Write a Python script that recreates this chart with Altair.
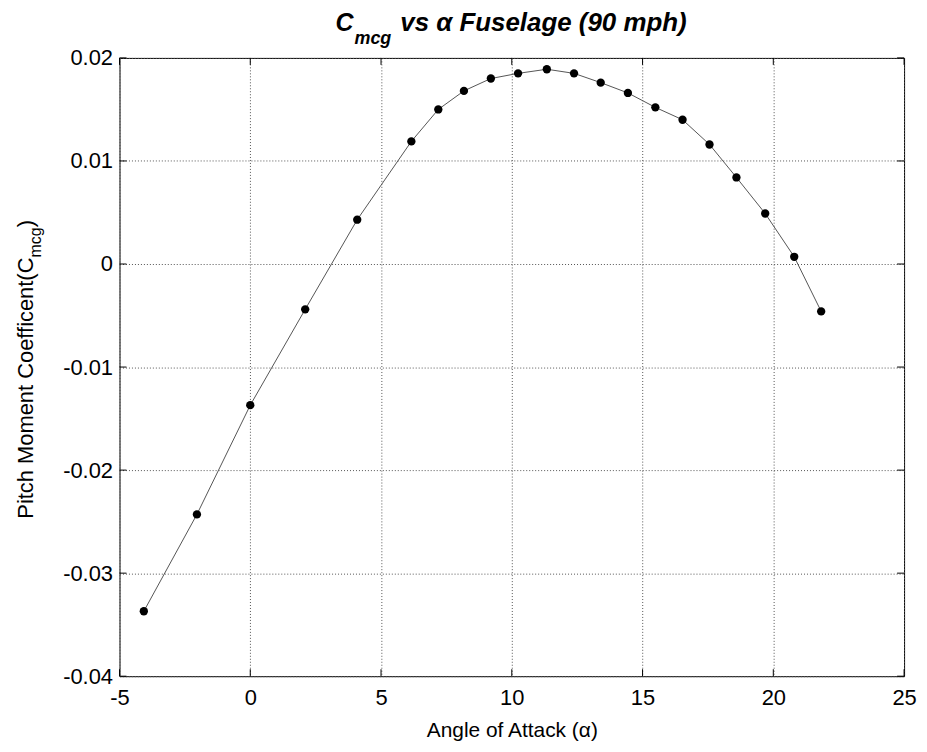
import altair as alt
import pandas as pd

# ---- data ----
alpha = [-4.07, -2.04, 0.0, 2.10, 4.09, 6.16, 7.19, 8.17, 9.20, 10.24, 11.34,
         12.38, 13.40, 14.44, 15.49, 16.53, 17.56, 18.59, 19.69, 20.80, 21.83]
cmcg = [-0.0337, -0.0243, -0.0137, -0.0044, 0.0043, 0.0119, 0.0150, 0.0168,
        0.0180, 0.0185, 0.0189, 0.0185, 0.0176, 0.0166, 0.0152, 0.0140,
        0.0116, 0.0084, 0.0049, 0.0007, -0.0046]
x_ticks = [-5, 0, 5, 10, 15, 20, 25]
y_ticks = [-0.04, -0.03, -0.02, -0.01, 0.0, 0.01, 0.02]

title_main = ["C"]
title_sub = ["mcg"]
title_rest = ["vs \u03b1 Fuselage (90 mph)"]
ytitle_main = ["Pitch Moment Coefficent(C"]
ytitle_sub = ["mcg"]
ytitle_end = [")"]
xtitle = "Angle of Attack (\u03b1)"

W, H = 788, 621
FONT = "Liberation Sans"
TICK = 7

df = pd.DataFrame({"alpha": alpha, "cmcg": cmcg})
xt = pd.DataFrame({"t": x_ticks})
yt = pd.DataFrame({"t": y_ticks})

xs = alt.Scale(domain=[-5, 25], nice=False, zero=False)
ys = alt.Scale(domain=[-0.04, 0.02], nice=False, zero=False)

xaxis = alt.Axis(values=x_ticks, title=xtitle, grid=True, ticks=False, domain=False,
                 labelExpr="datum.value < 0 ? '-' + format(-datum.value, 'd') : format(datum.value, 'd')",
                 labelPadding=11, titlePadding=12, labelFlush=False)
yaxis = alt.Axis(values=y_ticks, title="", grid=True, ticks=False, domain=False,
                 labelExpr="datum.value < 0 ? '-' + format(-datum.value, '.2~f') : format(datum.value, '.2~f')",
                 labelPadding=7, labelFlush=False)

X = alt.X("alpha:Q", scale=xs, axis=xaxis)
Y = alt.Y("cmcg:Q", scale=ys, axis=yaxis)

line = alt.Chart(df).mark_line(color="#555555", strokeWidth=1).encode(x=X, y=Y)
pts = alt.Chart(df).mark_circle(size=70, color="black", opacity=1).encode(x=X, y=Y)

XT = alt.X("t:Q", scale=xs, axis=xaxis)
YT = alt.Y("t:Q", scale=ys, axis=yaxis)
tick_bottom = alt.Chart(xt).mark_rule(color="black", strokeWidth=1).encode(
    x=XT, y=alt.value(H), y2=alt.value(H - TICK))
tick_top = alt.Chart(xt).mark_rule(color="black", strokeWidth=1).encode(
    x=XT, y=alt.value(0), y2=alt.value(TICK))
tick_left = alt.Chart(yt).mark_rule(color="black", strokeWidth=1).encode(
    y=YT, x=alt.value(0), x2=alt.value(TICK))
tick_right = alt.Chart(yt).mark_rule(color="black", strokeWidth=1).encode(
    y=YT, x=alt.value(W), x2=alt.value(W - TICK))


def txt(strings, x, y, size, align="left", angle=0, bold=False, italic=False):
    d = pd.DataFrame({"s": strings})
    kw = dict(align=align, baseline="alphabetic", font=FONT, fontSize=size, color="black")
    if angle:
        kw["angle"] = angle
    if bold:
        kw["fontWeight"] = "bold"
    if italic:
        kw["fontStyle"] = "italic"
    return alt.Chart(d).mark_text(**kw).encode(
        x=alt.value(x), y=alt.value(y), text="s:N")


t1 = txt(title_main, 217, -27, 25, bold=True, italic=True)
t2 = txt(title_sub, 236, -13.5, 18, bold=True, italic=True)
t3 = txt(title_rest, 282, -27, 26, bold=True, italic=True)

y1 = txt(ytitle_main, -87, 200.5, 22, align="right", angle=270)
y2 = txt(ytitle_sub, -79, 200.5, 16, align="left", angle=270)
y3 = txt(ytitle_end, -87, 170, 22, align="left", angle=270)

chart = alt.layer(
    line, pts, tick_bottom, tick_top, tick_left, tick_right, t1, t2, t3, y1, y2, y3
).properties(
    width=W, height=H,
    autosize=alt.AutoSizeParams(type="none"),
    padding={"left": 112, "top": 48.5, "right": 15, "bottom": 72},
    background="white",
).configure_view(
    stroke="black", strokeWidth=1
).configure_axis(
    labelFont=FONT, labelFontSize=22, labelColor="black",
    titleFont=FONT, titleFontSize=21, titleColor="black", titleFontWeight="normal",
    gridColor="#555555", gridDash=[1, 2], gridWidth=1, gridOpacity=1,
)

chart.save("out.html", embed_options={"renderer": "svg", "actions": False})
